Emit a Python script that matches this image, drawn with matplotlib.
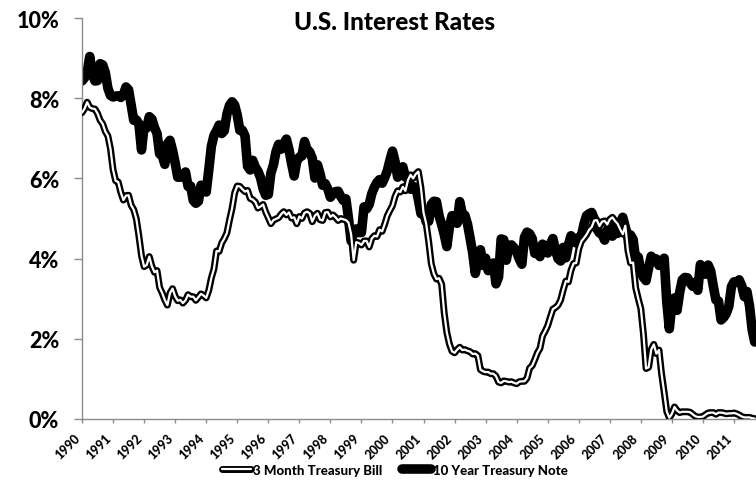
import matplotlib
matplotlib.use("Agg")
import matplotlib.pyplot as plt
import matplotlib.patheffects as pe
import matplotlib.transforms as mtransforms
from matplotlib.ticker import FixedLocator, FuncFormatter

# monthly values, Jan 1990 - Sep 2011 (percent)
note_10y = [
    8.43, 8.51, 8.65, 9.04, 8.60, 8.43, 8.44, 8.86, 8.83, 8.64, 8.25, 8.07,   # 1990
    8.03, 8.05, 8.06, 8.02, 8.09, 8.28, 8.21, 7.83, 7.45, 7.46, 7.36, 6.71,   # 1991
    7.29, 7.26, 7.54, 7.48, 7.27, 7.12, 6.61, 6.57, 6.35, 6.86, 6.95, 6.70,   # 1992
    6.39, 6.03, 6.03, 6.05, 6.16, 5.80, 5.81, 5.45, 5.38, 5.43, 5.83, 5.79,   # 1993
    5.66, 6.21, 6.80, 7.07, 7.19, 7.33, 7.12, 7.19, 7.60, 7.82, 7.91, 7.83,   # 1994
    7.58, 7.20, 7.20, 7.06, 6.30, 6.21, 6.45, 6.28, 6.18, 6.02, 5.74, 5.58,   # 1995
    5.60, 6.13, 6.34, 6.67, 6.85, 6.73, 6.87, 6.98, 6.72, 6.37, 6.06, 6.43,   # 1996
    6.53, 6.56, 6.92, 6.72, 6.66, 6.50, 6.01, 6.34, 6.12, 5.83, 5.87, 5.74,   # 1997
    5.53, 5.62, 5.67, 5.68, 5.55, 5.45, 5.49, 5.00, 4.44, 4.64, 4.74, 4.65,   # 1998
    4.65, 5.29, 5.24, 5.35, 5.62, 5.78, 5.90, 5.97, 5.88, 6.02, 6.19, 6.45,   # 1999
    6.68, 6.42, 6.03, 6.23, 6.29, 6.03, 6.04, 5.73, 5.80, 5.77, 5.48, 5.12,   # 2000
    5.19, 4.92, 4.93, 5.35, 5.43, 5.42, 5.07, 4.85, 4.60, 4.30, 4.78, 5.07,   # 2001
    5.04, 4.88, 5.42, 5.11, 5.08, 4.86, 4.51, 4.14, 3.63, 3.93, 4.22, 3.83,   # 2002
    4.01, 3.70, 3.83, 3.89, 3.37, 3.54, 4.49, 4.47, 3.96, 4.33, 4.34, 4.27,   # 2003
    4.16, 3.99, 3.86, 4.53, 4.66, 4.62, 4.50, 4.13, 4.14, 4.05, 4.36, 4.24,   # 2004
    4.14, 4.36, 4.50, 4.21, 4.00, 3.94, 4.28, 4.02, 4.34, 4.57, 4.49, 4.39,   # 2005
    4.53, 4.55, 4.86, 5.07, 5.12, 5.15, 4.99, 4.74, 4.64, 4.61, 4.46, 4.71,   # 2006
    4.83, 4.56, 4.65, 4.63, 4.90, 5.03, 4.78, 4.54, 4.59, 4.48, 3.97, 4.04,   # 2007
    3.67, 3.53, 3.45, 3.77, 4.06, 3.99, 3.99, 3.83, 3.85, 4.01, 2.93, 2.25,   # 2008
    2.87, 3.02, 2.71, 3.16, 3.47, 3.53, 3.52, 3.40, 3.31, 3.41, 3.21, 3.85,   # 2009
    3.63, 3.61, 3.84, 3.69, 3.31, 2.97, 2.94, 2.47, 2.53, 2.63, 2.81, 3.30,   # 2010
    3.42, 3.42, 3.47, 3.32, 3.05, 3.18, 2.82, 2.23, 1.92,                     # 2011
]

tbill_3m = [
    7.64, 7.74, 7.90, 7.77, 7.74, 7.73, 7.62, 7.45, 7.36, 7.17, 7.06, 6.74,
    6.22, 5.94, 5.91, 5.65, 5.46, 5.57, 5.58, 5.33, 5.22, 4.99, 4.56, 4.07,
    3.80, 3.84, 4.05, 3.81, 3.66, 3.70, 3.28, 3.14, 2.97, 2.84, 3.14, 3.25,
    3.06, 2.95, 2.97, 2.89, 2.96, 3.10, 3.05, 3.05, 2.96, 3.04, 3.12, 3.08,
    3.02, 3.21, 3.52, 3.74, 4.19, 4.18, 4.39, 4.50, 4.64, 4.96, 5.25, 5.64,
    5.81, 5.80, 5.73, 5.67, 5.70, 5.50, 5.47, 5.41, 5.26, 5.30, 5.35, 5.16,
    5.02, 4.87, 4.96, 4.99, 5.02, 5.11, 5.17, 5.09, 5.15, 5.01, 5.03, 4.87,
    5.05, 5.00, 5.14, 5.17, 5.13, 4.92, 5.07, 5.13, 4.97, 4.95, 5.15, 5.16,
    5.04, 5.09, 5.03, 4.95, 5.00, 4.98, 4.96, 4.90, 4.61, 3.96, 4.41, 4.39,
    4.34, 4.44, 4.44, 4.29, 4.50, 4.57, 4.55, 4.72, 4.68, 4.86, 5.07, 5.20,
    5.32, 5.55, 5.69, 5.66, 5.79, 5.69, 5.96, 6.09, 6.00, 6.11, 6.17, 5.77,
    5.15, 4.88, 4.42, 3.87, 3.62, 3.49, 3.51, 3.36, 2.64, 2.16, 1.87, 1.69,
    1.65, 1.73, 1.79, 1.72, 1.73, 1.70, 1.68, 1.62, 1.63, 1.58, 1.23, 1.19,
    1.17, 1.17, 1.13, 1.13, 1.07, 0.92, 0.90, 0.95, 0.94, 0.92, 0.93, 0.90,
    0.88, 0.93, 0.94, 0.94, 1.02, 1.27, 1.33, 1.48, 1.65, 1.76, 2.07, 2.19,
    2.33, 2.54, 2.74, 2.78, 2.84, 2.97, 3.22, 3.44, 3.42, 3.71, 3.88, 3.89,
    4.24, 4.43, 4.51, 4.60, 4.72, 4.79, 4.95, 4.96, 4.81, 4.92, 4.94, 4.85,
    4.98, 5.03, 4.94, 4.87, 4.73, 4.61, 4.82, 4.20, 3.89, 3.90, 3.27, 3.00,
    2.75, 2.12, 1.26, 1.29, 1.73, 1.86, 1.63, 1.72, 1.13, 0.67, 0.19, 0.03,
    0.13, 0.30, 0.21, 0.16, 0.18, 0.18, 0.18, 0.17, 0.12, 0.07, 0.05, 0.05,
    0.06, 0.11, 0.15, 0.16, 0.16, 0.12, 0.16, 0.16, 0.15, 0.13, 0.14, 0.14,
    0.15, 0.13, 0.10, 0.06, 0.04, 0.04, 0.04, 0.02, 0.01,
]

year_labels = [str(y) for y in range(1990, 2012)]
y_ticks = [0, 2, 4, 6, 8, 10]

FONT = "Lato"
WEIGHT = "black"
GREY = "#8c8c8c"

fig = plt.figure(figsize=(7.56, 4.89), dpi=100)
ax = fig.add_axes([82/756, 69/489, 674/756, 401/489])

months = list(range(len(note_10y)))

ax.plot(months, note_10y, color="black", lw=6.9, solid_joinstyle="round",
        solid_capstyle="round", label="10 Year Treasury Note", zorder=2)
ax.plot(months, tbill_3m, color="white", lw=1.6, solid_joinstyle="round",
        solid_capstyle="round",
        path_effects=[pe.Stroke(linewidth=5.0, foreground="black", joinstyle="round",
                                capstyle="round"), pe.Normal()],
        label="3 Month Treasury Bill", zorder=3)

ax.set_xlim(0, 260.5)
ax.set_ylim(0, 10)

for s in ["top", "right"]:
    ax.spines[s].set_visible(False)
for s in ["left", "bottom"]:
    ax.spines[s].set_color(GREY)
    ax.spines[s].set_linewidth(1.0)

ax.xaxis.set_major_locator(FixedLocator([12 * i for i in range(len(year_labels))]))
ax.set_xticklabels(year_labels, rotation=45, ha="right", va="top",
                   fontsize=9, fontweight=WEIGHT, family=FONT)
# nudge rotated year labels a little to the right, like the original
shift = mtransforms.ScaledTranslation(3/72, 0, fig.dpi_scale_trans)
for t in ax.get_xticklabels():
    t.set_transform(t.get_transform() + shift)

ax.set_yticks(y_ticks)
ax.yaxis.set_major_formatter(FuncFormatter(lambda v, p: "%d%%" % v))
for t in ax.get_yticklabels():
    t.set_fontsize(15.5)
    t.set_fontweight(WEIGHT)
    t.set_family(FONT)

ax.tick_params(axis="y", length=5.5, width=1, color=GREY, pad=11)
ax.tick_params(axis="x", length=3, width=1, color=GREY, pad=6)

fig.text(395/756, 1 - 22/489, "U.S. Interest Rates", ha="center", va="center",
         fontsize=17.5, fontweight=WEIGHT, family=FONT)

h, l = ax.get_legend_handles_labels()
leg = fig.legend(h[::-1], l[::-1], loc="center", bbox_to_anchor=(395/756, 1 - 471/489),
                 ncol=2, frameon=False, handlelength=2.2, handletextpad=0.15,
                 columnspacing=1.5, prop={"family": FONT, "weight": WEIGHT, "size": 9.5})
for line in leg.get_lines():
    line.set_solid_capstyle("round")

fig.savefig("out.png", dpi=100)
